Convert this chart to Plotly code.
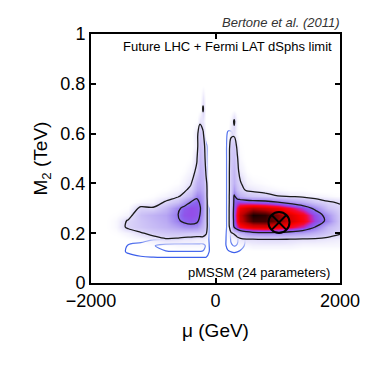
import plotly.graph_objs as go

# grid of mu (GeV) and M2 (TeV) values
mu_grid = [-2000, -1800, -1600, -1400, -1200, -1000, -800, -600, -500, -400, -300, -250,
           -200, -150, -100, 0, 100, 150, 200, 250, 300, 350, 400, 500, 600, 800,
           1000, 1200, 1400, 1600, 1800, 2000]
m2_grid = [0, 0.1, 0.125, 0.15, 0.175, 0.2, 0.225, 0.25, 0.275, 0.3, 0.325, 0.35,
           0.375, 0.4, 0.45, 0.5, 0.55, 0.6, 0.65, 0.7, 0.8, 1.0]

Z0 = [0] * 32

# posterior density (future LHC + Fermi LAT dSphs), 0-100
posterior = [
    Z0,
    Z0,
    Z0,
    [0, 0, 0, 0, 0, 1, 1, 2, 2, 2, 2, 2, 2, 1, 0, 0, 0, 0, 0, 0, 1, 1, 2, 2, 3, 3, 3, 3, 2, 2, 2, 2],
    [0, 0, 0, 1, 2, 4, 7, 6, 5, 5, 4, 4, 4, 3, 0, 0, 0, 0, 1, 2, 3, 4, 5, 7, 7, 8, 8, 7, 6, 6, 5, 4],
    [0, 0, 1, 3, 7, 11, 14, 15, 14, 13, 13, 13, 13, 9, 0, 0, 0, 0, 3, 7, 9, 14, 22, 30, 34, 36, 35, 32, 28, 22, 14, 9],
    [0, 0, 2, 10, 14, 18, 22, 28, 32, 34, 32, 26, 20, 12, 0, 0, 0, 0, 3, 14, 42, 56, 66, 72, 76, 78, 74, 66, 56, 40, 20, 12],
    [0, 0, 2, 9, 15, 20, 25, 38, 44, 47, 44, 36, 24, 12, 0, 0, 0, 0, 3, 16, 46, 66, 80, 90, 96, 96, 90, 80, 70, 52, 36, 13],
    [0, 0, 1, 3, 17, 22, 27, 40, 48, 50, 48, 40, 28, 12, 0, 0, 0, 0, 3, 16, 48, 68, 82, 92, 100, 98, 90, 78, 68, 50, 32, 12],
    [0, 0, 0, 1, 10, 9, 20, 36, 46, 50, 48, 42, 30, 12, 0, 0, 0, 0, 3, 16, 46, 62, 74, 80, 84, 80, 74, 64, 52, 36, 16, 10],
    [0, 0, 0, 0, 2, 3, 9, 17, 28, 40, 45, 38, 30, 12, 0, 0, 0, 0, 3, 15, 44, 50, 52, 50, 48, 46, 40, 32, 24, 14, 9, 7],
    [0, 0, 0, 0, 0, 1, 3, 6, 12, 20, 36, 34, 28, 11, 0, 0, 0, 0, 3, 15, 42, 30, 22, 16, 14, 12, 8, 5, 4, 3, 2, 1],
    [0, 0, 0, 0, 0, 0, 1, 3, 5, 12, 26, 28, 24, 11, 0, 0, 0, 0, 3, 14, 30, 18, 12, 6, 5, 3, 2, 1, 1, 0, 0, 0],
    [0, 0, 0, 0, 0, 0, 0, 1, 3, 6, 22, 24, 22, 10, 0, 0, 0, 0, 3, 14, 22, 14, 9, 3, 2, 1, 0, 0, 0, 0, 0, 0],
    [0, 0, 0, 0, 0, 0, 0, 0, 1, 3, 10, 22, 20, 6, 0, 0, 0, 0, 3, 14, 20, 11, 4, 1, 0, 0, 0, 0, 0, 0, 0, 0],
    [0, 0, 0, 0, 0, 0, 0, 0, 0, 1, 7, 20, 15, 4, 0, 0, 0, 0, 3, 13, 17, 9, 2, 0, 0, 0, 0, 0, 0, 0, 0, 0],
    [0, 0, 0, 0, 0, 0, 0, 0, 0, 0, 4, 17, 13, 3, 0, 0, 0, 0, 3, 12, 14, 6, 1, 0, 0, 0, 0, 0, 0, 0, 0, 0],
    [0, 0, 0, 0, 0, 0, 0, 0, 0, 0, 5, 14, 9, 1, 0, 0, 0, 0, 1, 6, 6, 2, 0, 0, 0, 0, 0, 0, 0, 0, 0, 0],
    [0, 0, 0, 0, 0, 0, 0, 0, 0, 0, 1, 6, 5, 0, 0, 0, 0, 0, 0, 3, 9, 2, 0, 0, 0, 0, 0, 0, 0, 0, 0, 0],
    [0, 0, 0, 0, 0, 0, 0, 0, 0, 0, 0, 0, 9, 0, 0, 0, 0, 0, 0, 0, 0, 0, 0, 0, 0, 0, 0, 0, 0, 0, 0, 0],
    Z0,
    Z0,
]

# blue reference contours (current constraints), 0-100
reference = [
    Z0,
    [0, 0, 0, 2, 3, 4, 4, 4, 4, 4, 4, 4, 4, 4, 3, 0, 0, 0, 0, 0, 0, 0, 0, 0, 0, 0, 0, 0, 0, 0, 0, 0],
    [0, 0, 1, 10, 20, 30, 38, 39, 39, 39, 39, 39, 38, 30, 7, 0, 0, 0, 5, 8, 9, 8, 5, 0, 0, 0, 0, 0, 0, 0, 0, 0],
    [0, 0, 1, 9, 12, 38, 50, 52, 52, 52, 52, 52, 50, 36, 7, 0, 0, 3, 16, 36, 42, 38, 16, 3, 0, 0, 0, 0, 0, 0, 0, 0],
    [0, 0, 0, 2, 4, 6, 7, 8, 9, 10, 11, 12, 14, 14, 7, 0, 0, 3, 16, 44, 52, 46, 20, 4, 0, 0, 0, 0, 0, 0, 0, 0],
    [0, 0, 0, 0, 0, 0, 0, 0, 0, 0, 2, 5, 12, 14, 7, 0, 0, 3, 14, 40, 44, 36, 14, 3, 0, 0, 0, 0, 0, 0, 0, 0],
    [0, 0, 0, 0, 0, 0, 0, 0, 0, 0, 2, 5, 12, 14, 7, 0, 0, 3, 12, 22, 20, 14, 8, 2, 0, 0, 0, 0, 0, 0, 0, 0],
    [0, 0, 0, 0, 0, 0, 0, 0, 0, 0, 2, 5, 12, 14, 7, 0, 0, 3, 12, 12, 10, 6, 2, 0, 0, 0, 0, 0, 0, 0, 0, 0],
    [0, 0, 0, 0, 0, 0, 0, 0, 0, 0, 2, 5, 12, 14, 7, 0, 0, 3, 12, 12, 10, 6, 2, 0, 0, 0, 0, 0, 0, 0, 0, 0],
    [0, 0, 0, 0, 0, 0, 0, 0, 0, 0, 2, 5, 12, 14, 7, 0, 0, 3, 12, 12, 10, 6, 2, 0, 0, 0, 0, 0, 0, 0, 0, 0],
    [0, 0, 0, 0, 0, 0, 0, 0, 0, 0, 4, 10, 12, 10, 3, 0, 0, 3, 12, 12, 10, 6, 2, 0, 0, 0, 0, 0, 0, 0, 0, 0],
    [0, 0, 0, 0, 0, 0, 0, 0, 0, 0, 4, 10, 12, 10, 3, 0, 0, 3, 12, 12, 10, 6, 2, 0, 0, 0, 0, 0, 0, 0, 0, 0],
    [0, 0, 0, 0, 0, 0, 0, 0, 0, 0, 4, 10, 12, 10, 3, 0, 0, 3, 12, 12, 10, 6, 2, 0, 0, 0, 0, 0, 0, 0, 0, 0],
    [0, 0, 0, 0, 0, 0, 0, 0, 0, 0, 4, 10, 12, 10, 3, 0, 0, 3, 12, 12, 10, 6, 2, 0, 0, 0, 0, 0, 0, 0, 0, 0],
    [0, 0, 0, 0, 0, 0, 0, 0, 0, 0, 4, 10, 12, 10, 3, 0, 0, 3, 12, 12, 10, 6, 2, 0, 0, 0, 0, 0, 0, 0, 0, 0],
    [0, 0, 0, 0, 0, 0, 0, 0, 0, 0, 4, 10, 12, 10, 3, 0, 0, 3, 12, 12, 10, 6, 2, 0, 0, 0, 0, 0, 0, 0, 0, 0],
    [0, 0, 0, 0, 0, 0, 0, 0, 0, 0, 4, 10, 12, 10, 3, 0, 0, 3, 12, 12, 10, 6, 2, 0, 0, 0, 0, 0, 0, 0, 0, 0],
    [0, 0, 0, 0, 0, 0, 0, 0, 0, 0, 6, 10, 8, 2, 0, 0, 0, 2, 10, 10, 6, 2, 0, 0, 0, 0, 0, 0, 0, 0, 0, 0],
    Z0,
    Z0,
    Z0,
    Z0,
]

contour_levels = [8, 40]

best_fit_mu = [1020]
best_fit_m2 = [0.243]

FONT = 'Liberation Sans, Arial, sans-serif'

density_colors = [
    [0.0, 'rgba(255,255,255,0)'],
    [0.02, 'rgba(240,238,252,0.45)'],
    [0.05, 'rgba(232,228,251,0.9)'],
    [0.08, 'rgb(222,216,249)'],
    [0.15, 'rgb(206,196,246)'],
    [0.25, 'rgb(186,170,243)'],
    [0.35, 'rgb(162,138,240)'],
    [0.44, 'rgb(138,100,238)'],
    [0.52, 'rgb(150,70,230)'],
    [0.58, 'rgb(205,30,160)'],
    [0.64, 'rgb(245,10,50)'],
    [0.72, 'rgb(250,0,0)'],
    [0.84, 'rgb(190,0,0)'],
    [0.93, 'rgb(95,0,0)'],
    [1.0, 'rgb(25,0,0)'],
]

level_size = contour_levels[1] - contour_levels[0]

blue = go.Contour(
    x = mu_grid, y = m2_grid, z = reference,
    contours = dict(coloring = 'lines', start = contour_levels[0],
                    end = contour_levels[1], size = level_size),
    colorscale = [[0, 'rgb(60,95,235)'], [1, 'rgb(60,95,235)']],
    line = dict(width = 1.2, smoothing = 1),
    showscale = False, hoverinfo = 'skip'
)

density = go.Contour(
    x = mu_grid, y = m2_grid, z = posterior,
    contours = dict(coloring = 'heatmap', start = contour_levels[0],
                    end = contour_levels[1], size = level_size),
    colorscale = density_colors, zmin = 0, zmax = 100, zauto = False,
    line = dict(color = '#1a1a1a', width = 1.3, smoothing = 1),
    showscale = False, hoverinfo = 'skip'
)

best = go.Scatter(
    x = best_fit_mu, y = best_fit_m2, mode = 'markers',
    marker = dict(symbol = 'circle-x-open', size = 21, color = 'black',
                  line = dict(width = 2, color = 'black')),
    hoverinfo = 'skip'
)

axis_style = dict(
    showline = True, linecolor = 'black', linewidth = 2, mirror = 'ticks',
    ticks = 'inside', ticklen = 5, tickwidth = 1.5, tickcolor = 'black',
    showgrid = False, zeroline = False, automargin = False,
    tickfont = dict(family = FONT, size = 18, color = 'black'),
)

# the page body adds 8px around the figure, so the figure is 366 wide
layout = go.Layout(
    width = 366, height = 366,
    margin = dict(l = 83, r = 34, t = 26, b = 91),
    paper_bgcolor = 'white', plot_bgcolor = 'white',
    showlegend = False,
    xaxis = dict(axis_style, range = [-2000, 2000], tickvals = [-2000, 0, 2000],
                 title = dict(text = 'μ (GeV)', standoff = 14,
                              font = dict(family = FONT, size = 19, color = 'black'))),
    yaxis = dict(axis_style, range = [0, 1], tickvals = [0, 0.2, 0.4, 0.6, 0.8, 1],
                 ticktext = ['0', '0.2', '0.4', '0.6', '0.8', '1'],
                 title = dict(text = 'M<sub>2</sub> (TeV)', standoff = 8,
                              font = dict(family = FONT, size = 19, color = 'black'))),
    annotations = [
        dict(text = '<i>Bertone et al. (2011)</i>', xref = 'paper', yref = 'paper',
             x = 1.01, y = 1.048, xanchor = 'right', yanchor = 'middle', showarrow = False,
             font = dict(family = FONT, size = 13, color = '#333')),
        dict(text = 'Future LHC + Fermi LAT dSphs limit', xref = 'paper', yref = 'paper',
             x = 0.976, y = 0.948, xanchor = 'right', yanchor = 'middle', showarrow = False,
             font = dict(family = FONT, size = 13, color = 'black')),
        dict(text = 'pMSSM (24 parameters)', xref = 'paper', yref = 'paper',
             x = 0.968, y = 0.044, xanchor = 'right', yanchor = 'middle', showarrow = False,
             font = dict(family = FONT, size = 13, color = 'black')),
    ],
)

fig = go.Figure(data = [blue, density, best], layout = layout)
fig.write_html('out.html')
